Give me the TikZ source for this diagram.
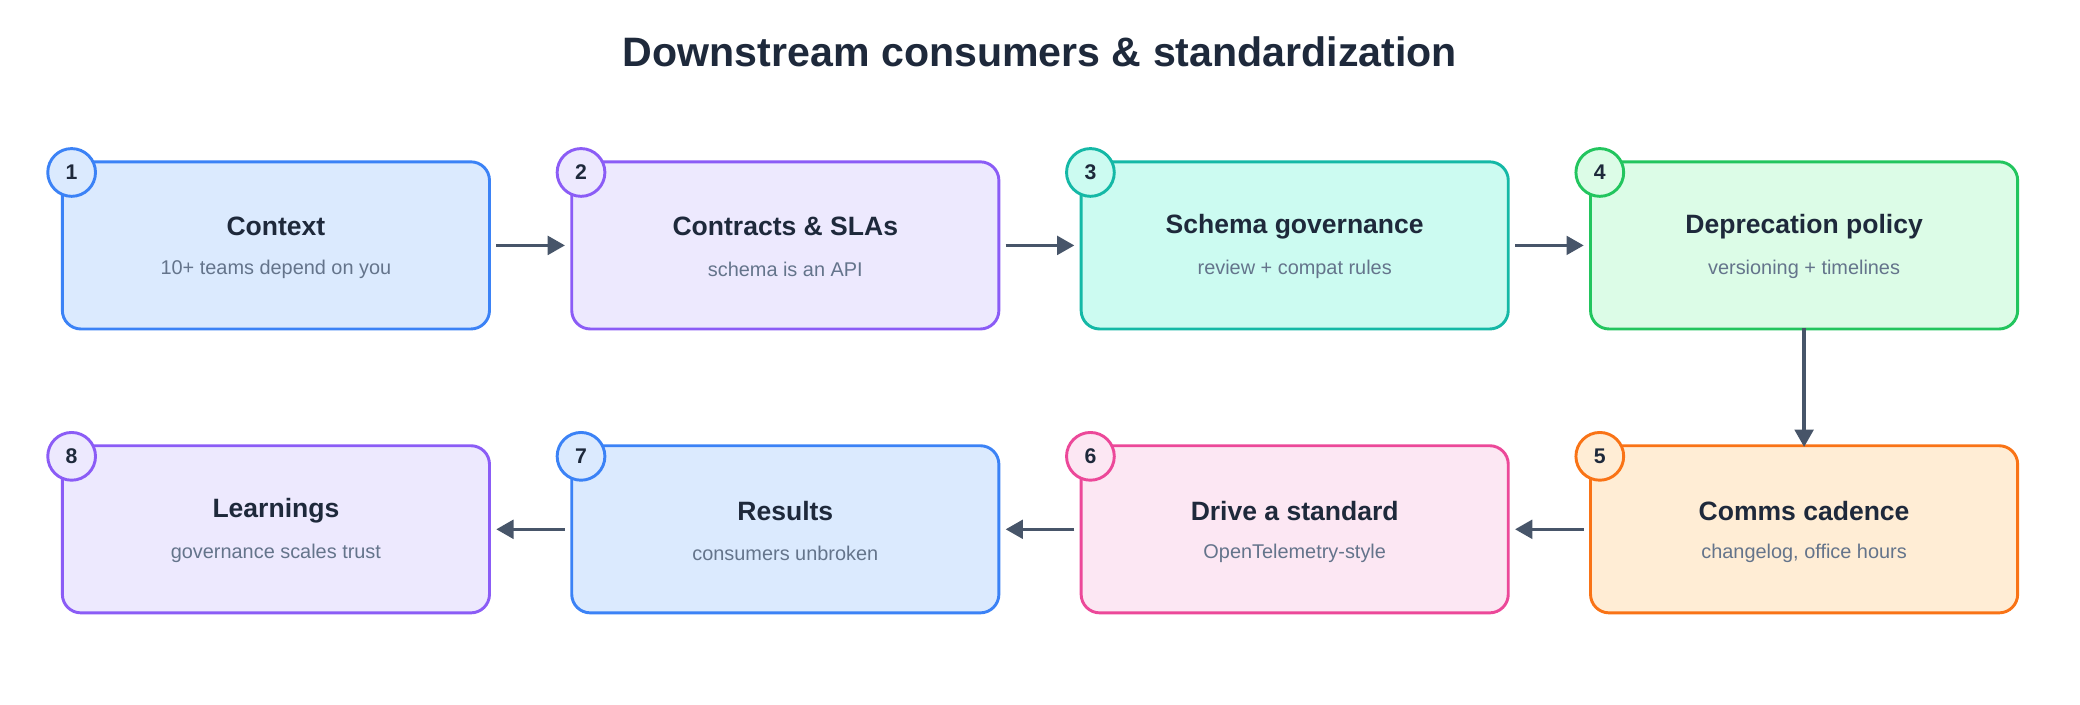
\documentclass[tikz,border=0pt]{standalone}
\usepackage{fontspec}
\setmainfont{Liberation Sans}
\usetikzlibrary{arrows.meta}
\definecolor{tx}{HTML}{1E293B}
\definecolor{sub}{HTML}{64748B}
\definecolor{ar}{HTML}{475569}
\definecolor{bB}{HTML}{3B82F6}\definecolor{fB}{HTML}{DBEAFE}
\definecolor{bP}{HTML}{8B5CF6}\definecolor{fP}{HTML}{EDE9FE}
\definecolor{bT}{HTML}{14B8A6}\definecolor{fT}{HTML}{CCFBF1}
\definecolor{bG}{HTML}{22C55E}\definecolor{fG}{HTML}{DCFCE7}
\definecolor{bO}{HTML}{F97316}\definecolor{fO}{HTML}{FFEDD5}
\definecolor{bK}{HTML}{EC4899}\definecolor{fK}{HTML}{FCE7F3}
\tikzset{
 box/.style 2 args={draw=#1,fill=#2,line width=2.2pt,rounded corners=14pt,minimum width=322pt,minimum height=126pt},
 badge/.style 2 args={circle,draw=#1,fill=#2,line width=2.2pt,minimum size=36pt,inner sep=0pt,font=\fontsize{16}{18}\selectfont\bfseries,text=tx},
 ttl/.style={font=\fontsize{20}{24}\selectfont\bfseries,text=tx},
 st/.style={font=\fontsize{15}{18}\selectfont,text=sub},
 arr/.style={draw=ar,line width=2.6pt,-{Stealth[length=13pt,width=14pt,inset=0pt]},shorten >=2pt,shorten <=2pt}
}
\begin{document}
\begin{tikzpicture}[x=1pt,y=-1pt]
\useasboundingbox[fill=white] (0,0) rectangle (1568,531);
\node[font=\fontsize{31}{36}\selectfont\bfseries,text=tx] (title) at (784,39) {Downstream consumers \& standardization};
\def\mk#1#2#3#4#5#6#7{%
 \node[box={b#4}{f#4}] (n#1) at (#2,#3) {};
 \node[ttl] (t#1) at (#2,#3-14) {#5};
 \node[st] (s#1) at (#2,#3+18) {#6};
 \node[badge={b#4}{f#4}] (b#1) at (#2-154,#3-55) {#7};}
\mk{1}{208}{185}{B}{Context}{10+ teams depend on you}{1}
\mk{2}{592}{185}{P}{Contracts \& SLAs}{schema is an API}{2}
\mk{3}{976}{185}{T}{Schema governance}{review + compat rules}{3}
\mk{4}{1360}{185}{G}{Deprecation policy}{versioning + timelines}{4}
\mk{5}{1360}{399}{O}{Comms cadence}{changelog, office hours}{5}
\mk{6}{976}{399}{K}{Drive a standard}{OpenTelemetry-style}{6}
\mk{7}{592}{399}{B}{Results}{consumers unbroken}{7}
\mk{8}{208}{399}{P}{Learnings}{governance scales trust}{8}
\draw[arr] (n1.east)++(2,0) -- ([xshift=-2pt]n2.west);
\draw[arr] ([xshift=2pt]n2.east) -- ([xshift=-2pt]n3.west);
\draw[arr] ([xshift=2pt]n3.east) -- ([xshift=-2pt]n4.west);
\draw[arr] ([yshift=4pt]n4.south) -- ([yshift=-4pt]n5.north);
\draw[arr] ([xshift=-2pt]n5.west) -- ([xshift=2pt]n6.east);
\draw[arr] ([xshift=-2pt]n6.west) -- ([xshift=2pt]n7.east);
\draw[arr] ([xshift=-2pt]n7.west) -- ([xshift=2pt]n8.east);
\end{tikzpicture}
\end{document}
